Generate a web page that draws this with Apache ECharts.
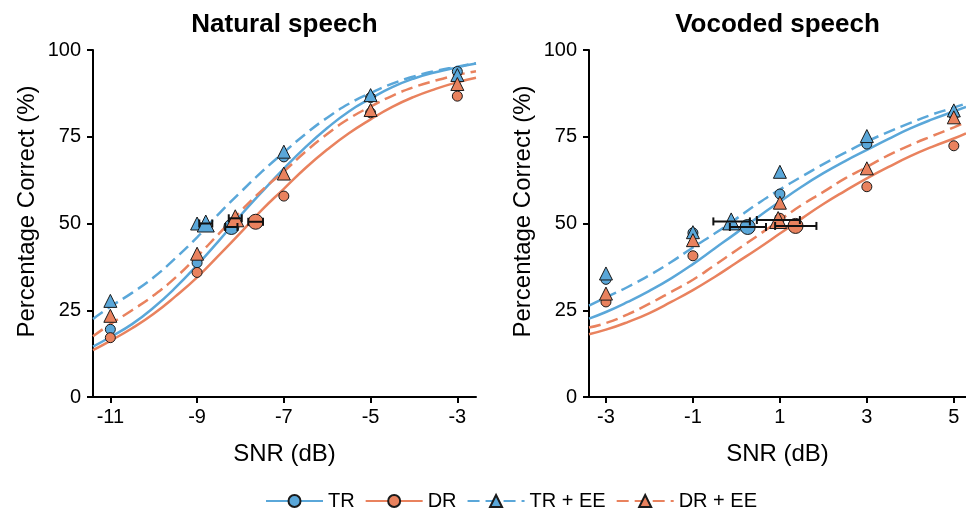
<!DOCTYPE html>
<html>
<head>
<meta charset="utf-8">
<script src="https://cdn.jsdelivr.net/npm/echarts@6/dist/echarts.min.js"></script>
<style>
  html, body { margin: 0; padding: 0; background: #fff; }
  #chart { width: 966px; height: 516px; }
</style>
</head>
<body>
<div id="chart"></div>
<script>
// ---- data ----
// fitted psychometric curves, sampled along x
var NAT_X = [-11.4, -11, -10.5, -10, -9.5, -9, -8.5, -8, -7.5, -7, -6.5, -6, -5.5, -5, -4.5, -4, -3.5, -3, -2.57];
var NAT_TR_FIT   = [14.5, 17.3, 21, 25.8, 31.5, 38, 45, 52.3, 59.2, 65.8, 72, 77.5, 82.3, 86, 89.3, 91.8, 93.6, 95, 96.1];
var NAT_DR_FIT   = [13.5, 16.2, 19.8, 24, 29, 34.5, 40.8, 47.3, 54, 60, 66, 71.3, 76, 80, 83.6, 86.5, 88.8, 90.7, 92];
var NAT_TREE_FIT = [22.5, 26, 30, 34.5, 40, 46, 52.8, 59, 65, 70.5, 75.8, 80.5, 84.5, 87.6, 90.3, 92.4, 94, 95.2, 96.2];
var NAT_DREE_FIT = [17.5, 21, 25, 29.3, 34.4, 40.5, 47, 53.5, 59.6, 65, 70.7, 75.8, 80.2, 83.7, 86.8, 89.3, 91.2, 92.8, 93.9];

var VOC_X = [-3.39, -3, -2.5, -2, -1.5, -1, -0.5, 0, 0.5, 1, 1.5, 2, 2.5, 3, 3.5, 4, 4.5, 5, 5.28];
var VOC_TR_FIT   = [22.6, 24.5, 27.4, 30.6, 34.2, 38.3, 42.8, 47.3, 51.9, 56.3, 60.6, 64.5, 68, 71.2, 74.4, 77.4, 80, 82.3, 83.6];
var VOC_DR_FIT   = [18.1, 19.4, 21.6, 24.2, 27.4, 30.8, 34.6, 38.7, 42.8, 47.1, 51.4, 55.6, 59.4, 63, 66.3, 69.4, 72.1, 74.5, 76];
var VOC_TREE_FIT = [26.3, 28.7, 31.7, 35.1, 38.9, 43.1, 47.1, 51.4, 55.8, 59.8, 63.5, 67.1, 70.4, 73.6, 76.4, 79, 81.4, 83.4, 84.6];
var VOC_DREE_FIT = [20, 21.3, 23.8, 26.9, 30.3, 33.8, 38, 42.3, 46.6, 51, 55.3, 59.1, 63, 66.3, 69.7, 72.6, 75.2, 77.7, 79.3];

// measured points
var NAT_SNR  = [-11, -9, -7, -5, -3];
var NAT_TR   = [19.5, 38.7, 69.2, 86.3, 93.8];
var NAT_DR   = [17.1, 35.9, 57.9, 81.9, 86.7];
var NAT_TREE = [27.7, 50, 70.7, 87, 92.8];
var NAT_DREE = [23.4, 41.3, 64.4, 82.7, 90.2];

var VOC_SNR  = [-3, -1, 1, 3, 5];
var VOC_TR   = [33.9, 47.3, 58.5, 72.9, 81.3];
var VOC_DR   = [27.4, 40.7, 51.5, 60.6, 72.4];
var VOC_TREE = [35.6, 47.5, 64.9, 75.2, 82.6];
var VOC_DREE = [29.8, 45.2, 56, 65.9, 80.6];

// 50% thresholds: [snr, percent, lower, upper]
var NAT_THR_TR   = [-8.21, 49, -8.35, -8.07];
var NAT_THR_DR   = [-7.65, 50.5, -7.82, -7.48];
var NAT_THR_TREE = [-8.8, 50, -8.95, -8.65];
var NAT_THR_DREE = [-8.12, 51.5, -8.27, -7.97];

var VOC_THR_TR   = [0.26, 49, -0.15, 0.68];
var VOC_THR_DR   = [1.36, 49.3, 0.89, 1.84];
var VOC_THR_TREE = [-0.12, 50.6, -0.53, 0.31];
var VOC_THR_DREE = [0.96, 51, 0.47, 1.46];

var NAT_TICKS = [-11, -9, -7, -5, -3];
var VOC_TICKS = [-3, -1, 1, 3, 5];

var NAMES = ['TR', 'DR', 'TR + EE', 'DR + EE'];

// ---- style ----
var FONT = '"Liberation Sans", Arial, Helvetica, sans-serif';
var BLUE = '#5aa7d9';
var ORANGE = '#e9825e';
var EDGE = '#1a1a1a';
var COLORS = [BLUE, ORANGE, BLUE, ORANGE];
var SYMBOLS = ['circle', 'circle', 'triangle', 'triangle'];
var DASHES = ['solid', 'solid', [12, 6], [12, 6]];

function zip(xs, ys) {
  return xs.map(function (x, i) { return [x, ys[i]]; });
}

function xAxisOf(gi, min, max, ticks) {
  return {
    type: 'value', gridIndex: gi, min: min, max: max,
    name: 'SNR (dB)', nameLocation: 'middle', nameGap: 45,
    nameTextStyle: { fontSize: 24, color: '#000', fontFamily: FONT },
    axisLine: { show: true, onZero: false, lineStyle: { color: '#000', width: 2 } },
    axisTick: { show: true, customValues: ticks, length: 6, lineStyle: { color: '#000', width: 2 } },
    axisLabel: { customValues: ticks, fontSize: 20, color: '#000', margin: 10, fontFamily: FONT },
    splitLine: { show: false }
  };
}

function yAxisOf(gi) {
  return {
    type: 'value', gridIndex: gi, min: 0, max: 100, interval: 25,
    name: 'Percentage Correct (%)', nameLocation: 'middle', nameGap: 54,
    // 左侧留白, 让文字整体上移一点 (参考图标签略偏上)
    nameTextStyle: { fontSize: 24, color: '#000', fontFamily: FONT, padding: [0, 0, 0, 24] },
    axisLine: { show: true, onZero: false, lineStyle: { color: '#000', width: 2 } },
    axisTick: { show: true, length: 6, lineStyle: { color: '#000', width: 2 } },
    axisLabel: { fontSize: 20, color: '#000', margin: 12, fontFamily: FONT },
    splitLine: { show: false }
  };
}

function errRender(params, api) {
  var y = api.value(1);
  var p1 = api.coord([api.value(2), y]);
  var p2 = api.coord([api.value(3), y]);
  var h = 4;
  var st = { stroke: '#111', lineWidth: 2 };
  return {
    type: 'group',
    children: [
      { type: 'line', shape: { x1: p1[0], y1: p1[1], x2: p2[0], y2: p2[1] }, style: st },
      { type: 'line', shape: { x1: p1[0], y1: p1[1] - h, x2: p1[0], y2: p1[1] + h }, style: st },
      { type: 'line', shape: { x1: p2[0], y1: p2[1] - h, x2: p2[0], y2: p2[1] + h }, style: st }
    ]
  };
}

// one panel = 4 fitted curves, 4 point sets, thresholds + error bars
function panelSeries(gi, fx, fits, snr, pts, thr) {
  var out = [];
  fits.forEach(function (f, k) {
    out.push({
      name: NAMES[k], type: 'line', xAxisIndex: gi, yAxisIndex: gi,
      data: zip(fx, f), smooth: 0.5,
      symbol: SYMBOLS[k], showSymbol: false, silent: true, z: 2,
      lineStyle: { color: COLORS[k], width: 2.5, type: DASHES[k] },
      itemStyle: { color: COLORS[k], borderColor: EDGE, borderWidth: 1 }
    });
  });
  pts.forEach(function (p, k) {
    out.push({
      name: NAMES[k] + ' pts', type: 'scatter', xAxisIndex: gi, yAxisIndex: gi,
      data: zip(snr, p), symbol: SYMBOLS[k], symbolSize: k < 2 ? 10 : 13, z: 3,
      itemStyle: { color: COLORS[k], borderColor: EDGE, borderWidth: 1, opacity: 1 }
    });
  });
  out.push({
    name: 'thr', type: 'scatter', xAxisIndex: gi, yAxisIndex: gi, z: 4,
    data: thr.map(function (t, k) {
      return {
        value: [t[0], t[1]],
        symbol: SYMBOLS[k],
        symbolSize: k < 2 ? 15 : 17,
        itemStyle: { color: COLORS[k], borderColor: EDGE, borderWidth: 1, opacity: 1 }
      };
    })
  });
  out.push({
    name: 'err', type: 'custom', xAxisIndex: gi, yAxisIndex: gi, z: 5,
    renderItem: errRender,
    encode: { x: 0, y: 1 },
    data: thr
  });
  return out;
}

var chart = echarts.init(document.getElementById('chart'), null, { renderer: 'canvas' });

var series = []
  .concat(panelSeries(0, NAT_X, [NAT_TR_FIT, NAT_DR_FIT, NAT_TREE_FIT, NAT_DREE_FIT],
    NAT_SNR, [NAT_TR, NAT_DR, NAT_TREE, NAT_DREE],
    [NAT_THR_TR, NAT_THR_DR, NAT_THR_TREE, NAT_THR_DREE]))
  .concat(panelSeries(1, VOC_X, [VOC_TR_FIT, VOC_DR_FIT, VOC_TREE_FIT, VOC_DREE_FIT],
    VOC_SNR, [VOC_TR, VOC_DR, VOC_TREE, VOC_DREE],
    [VOC_THR_TR, VOC_THR_DR, VOC_THR_TREE, VOC_THR_DREE]));

chart.setOption({
  animation: false,
  backgroundColor: '#fff',
  graphic: [
    { type: 'text', x: 284.5, y: 25, style: { text: 'Natural speech', textAlign: 'center', textVerticalAlign: 'middle', font: 'bold 26px ' + FONT, fill: '#000' } },
    { type: 'text', x: 777.5, y: 25, style: { text: 'Vocoded speech', textAlign: 'center', textVerticalAlign: 'middle', font: 'bold 26px ' + FONT, fill: '#000' } }
  ],
  grid: [
    { left: 93, top: 50, width: 383, height: 347, containLabel: false },
    { left: 589, top: 50, width: 377, height: 347, containLabel: false }
  ],
  xAxis: [xAxisOf(0, -11.4, -2.57, NAT_TICKS), xAxisOf(1, -3.39, 5.28, VOC_TICKS)],
  yAxis: [yAxisOf(0), yAxisOf(1)],
  legend: {
    data: NAMES,
    left: 260, top: 486,
    itemWidth: 57, itemHeight: 15, itemGap: 10,
    selectedMode: false,
    textStyle: { fontSize: 20, color: '#000', fontFamily: FONT }
  },
  series: series
});
</script>
</body>
</html>
